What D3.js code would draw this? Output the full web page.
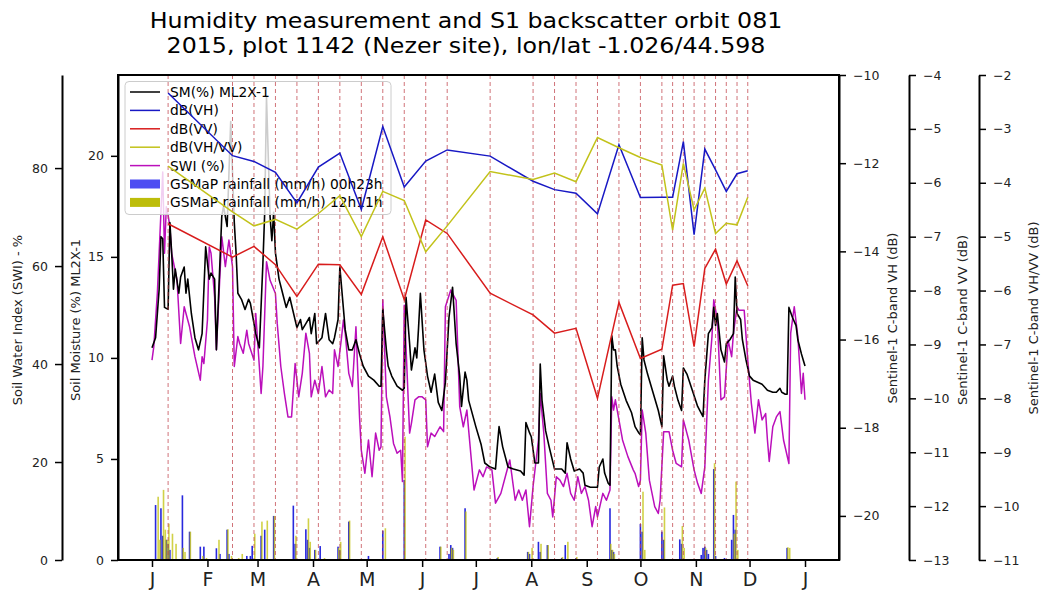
<!DOCTYPE html>
<html><head><meta charset="utf-8">
<script src="https://cdn.jsdelivr.net/npm/d3@7"></script>
<style>
body{margin:0;background:#fff;}
svg{display:block;font-family:"DejaVu Sans",sans-serif;}
</style></head><body>
<svg id="chart" width="1042" height="592"></svg>
<script>
// ---- data -------------------------------------------------------------
const titleLines = ["Humidity measurement and S1 backscatter orbit 081",
                    "2015, plot 1142 (Nezer site), lon/lat -1.026/44.598"];
const monthLabels = ["J","F","M","A","M","J","J","A","S","O","N","D","J"];

// Sentinel-1 acquisition dates and backscatter (dB)
const s1Dates = ["2015-01-10","2015-02-15","2015-02-27","2015-03-11","2015-03-23","2015-04-04",
  "2015-04-16","2015-04-28","2015-05-10","2015-05-22","2015-06-03","2015-06-15","2015-07-09",
  "2015-08-02","2015-08-14","2015-08-26","2015-09-07","2015-09-19","2015-10-01","2015-10-13",
  "2015-10-19","2015-10-25","2015-10-31","2015-11-06","2015-11-12","2015-11-18","2015-11-24","2015-11-30"];
const vhValues = [-10.41,-11.83,-11.96,-12.21,-12.90,-12.09,-11.77,-13.05,-11.17,-12.54,-11.95,-11.70,-11.84,
  -12.41,-12.60,-12.68,-13.15,-11.58,-12.78,-12.77,-12.77,-11.51,-13.62,-11.68,-12.15,-12.64,-12.24,-12.17];
const vvValues = [-6.76,-7.38,-7.18,-7.52,-8.11,-7.51,-7.52,-8.07,-7.00,-8.17,-6.69,-6.94,-8.05,
  -8.45,-8.79,-8.70,-10.00,-8.22,-9.26,-9.09,-7.90,-7.87,-9.04,-7.59,-7.23,-7.88,-7.45,-7.91];
const ratioValues = [-3.69,-4.54,-4.80,-4.68,-4.86,-4.57,-4.24,-5.00,-4.16,-4.33,-5.28,-4.80,-3.79,
  -3.94,-3.82,-3.98,-3.16,-3.35,-3.53,-3.67,-4.88,-3.64,-4.50,-4.10,-4.94,-4.75,-4.78,-4.27];

// Soil moisture ML2X-1 (%), [day of year (0 = 1 Jan), value]
const smPoints = [[0,10.5],[2,11.0],[4,13.4],[5,16.0],[6,15.9],[7,12.5],[9,12.4],[10,16.7],[11,15.2],[12,13.4],
  [13,14.4],[15,13.2],[16,14.0],[18,14.5],[19,13.2],[20,13.9],[22,12.2],[24,11.0],[26,10.4],[28,11.2],[30,15.5],
  [32,13.9],[33,14.2],[35,13.9],[36,10.4],[39,17.0],[40,17.5],[42,16.5],[44,21.7],[46,16.7],[47,15.2],[48,13.2],
  [50,12.9],[52,12.4],[54,12.9],[55,12.7],[56,12.2],[58,11.2],[60,10.5],[62,14.7],[63,17.2],[64,22.9],[66,17.0],
  [67,15.8],[68,17.2],[69,15.2],[71,13.9],[73,13.2],[75,12.5],[77,13.0],[81,11.5],[83,11.9],[84,11.4],[86,11.7],
  [88,12.0],[89,11.2],[91,12.2],[92,10.7],[95,11.0],[97,12.2],[99,10.9],[101,10.7],[102,11.0],[104,11.9],[105,14.5],
  [108,11.4],[110,10.4],[112,10.4],[114,10.9],[116,10.2],[118,9.6],[121,9.1],[124,8.9],[127,8.6],[128,8.6],[129,12.4],
  [131,10.4],[132,9.6],[134,9.1],[137,8.6],[140,8.4],[141,8.5],[142,13.0],[144,10.7],[145,9.4],[147,10.5],[148,10.0],
  [149,11.5],[150,13.2],[152,10.4],[154,9.1],[156,8.3],[158,9.2],[160,7.8],[162,7.4],[164,8.8],[166,12.0],[168,13.5],
  [170,10.7],[172,9.1],[173,7.6],[175,9.3],[176,8.9],[177,7.9],[181,6.6],[184,5.7],[186,4.8],[189,4.6],[192,4.5],
  [193,5.6],[194,6.6],[196,5.6],[199,4.6],[202,4.5],[206,4.4],[208,4.2],[209,6.8],[211,6.3],[212,6.1],[214,4.8],
  [216,4.8],[217,9.7],[218,7.9],[220,6.4],[222,5.6],[225,4.5],[227,4.5],[229,4.5],[231,4.3],[232,5.8],[234,5.0],
  [236,4.4],[239,4.5],[241,4.3],[242,3.7],[245,3.6],[249,3.6],[250,4.6],[252,5.0],[253,4.3],[255,3.8],[256,3.7],
  [257,11.1],[258,10.4],[259,10.4],[260,9.6],[262,8.7],[265,7.9],[268,7.3],[270,6.6],[272,6.3],[273,6.2],[274,11.0],
  [275,9.9],[277,9.2],[280,8.3],[283,7.4],[285,6.6],[286,10.1],[288,8.9],[289,8.6],[291,9.1],[292,8.6],[294,7.9],
  [296,7.4],[297,9.5],[299,9.2],[302,8.4],[305,7.6],[308,7.1],[309,8.9],[311,11.2],[313,11.5],[314,12.5],[315,11.6],
  [316,12.2],[318,10.4],[320,9.8],[321,10.7],[323,10.9],[325,11.2],[326,14.0],[327,12.2],[329,11.9],[330,10.9],
  [332,9.9],[334,9.1],[336,8.9],[341,8.7],[344,8.4],[347,8.3],[349,8.3],[351,8.5],[352,8.3],[354,8.2],[355,8.2],
  [356,12.5],[358,12.0],[360,11.6],[361,10.9],[363,10.2],[364,9.9],[365,9.6]];

// Soil Water Index (%), [day of year, value]
const swiPoints = [[0,40.8],[1,43.5],[3,54.5],[6,79.2],[7,62.6],[8,72.1],[9,70.4],[10,68.0],[11,62.6],[14,57.1],
  [16,44.2],[18,51.7],[21,47.6],[24,41.5],[27,36.7],[28,41.5],[29,40.1],[31,49.0],[32,63.9],[33,62.6],[35,53.7],
  [36,42.9],[39,66.0],[41,59.9],[43,65.3],[45,59.9],[46,39.5],[48,45.6],[49,44.2],[51,42.2],[53,46.9],[54,44.2],
  [57,40.8],[58,50.3],[60,39.5],[61,34.0],[62,39.5],[64,60.9],[66,57.1],[69,54.4],[70,48.3],[72,39.5],[74,34.0],
  [76,29.2],[78,29.2],[80,40.1],[82,33.3],[84,38.1],[86,46.3],[88,42.2],[89,33.3],[91,36.7],[93,34.0],[95,39.5],
  [97,33.3],[99,34.7],[101,34.0],[102,42.9],[104,39.5],[106,45.6],[107,49.0],[108,46.3],[110,38.1],[112,35.4],
  [114,47.6],[116,29.2],[117,22.4],[119,17.7],[121,24.5],[123,17.0],[125,25.9],[127,22.4],[128,23.1],[129,53.1],
  [131,33.3],[133,29.2],[135,23.8],[137,21.8],[139,22.4],[140,16.0],[141,52.0],[144,25.9],[145,27.9],[147,32.7],
  [149,33.3],[151,33.3],[153,32.7],[154,23.1],[156,25.9],[158,25.2],[161,27.2],[163,26.2],[164,51.7],[167,55.1],
  [170,53.0],[172,31.3],[174,27.2],[176,30.6],[180,14.3],[183,18.4],[185,17.0],[187,19.0],[190,18.4],[192,11.6],
  [195,13.6],[198,17.7],[200,20.4],[201,17.7],[203,12.2],[205,14.3],[207,12.2],[209,14.3],[211,6.8],[213,15.0],
  [216,24.5],[217,34.0],[219,25.9],[221,13.6],[223,12.2],[224,8.8],[226,17.0],[228,16.3],[230,15.0],[232,17.7],
  [234,13.6],[236,12.2],[238,17.0],[240,13.6],[242,15.0],[244,12.2],[246,6.8],[248,10.9],[249,8.8],[252,13.6],
  [254,12.2],[256,14.3],[257,33.3],[258,30.6],[259,32.7],[261,28.6],[263,24.5],[266,21.1],[269,18.4],[270,17.7],
  [272,15.0],[273,16.3],[274,30.6],[276,25.9],[278,16.3],[281,10.9],[283,9.5],[284,12.2],[286,26.2],[289,26.2],
  [291,22.4],[293,19.7],[296,19.0],[297,28.6],[300,24.5],[303,18.4],[305,15.6],[307,13.6],[309,19.0],[311,36.7],
  [313,45.6],[314,53.1],[316,49.0],[318,32.7],[320,33.3],[322,44.9],[324,41.5],[325,46.3],[327,51.7],[328,51.0],
  [331,51.0],[333,40.8],[335,32.0],[337,25.9],[339,32.7],[341,28.6],[343,29.9],[344,24.5],[345,20.1],[347,27.2],
  [349,29.2],[351,30.3],[353,24.5],[356,19.7],[357,46.3],[359,51.7],[361,45.6],[363,34.0],[364,38.1],[365,32.7]];

// GSMaP rainfall (mm/h), [day of year, value]
const rain00h23h = [[2,2.72],[5,2.56],[6,1.2],[8,1.0],[9,0.8],[10,0.5],[17,3.2],[21,1.4],[27,0.66],[29,0.66],
  [36,0.58],[38,0.3],[42,1.5],[43,0.3],[53,0.2],[55,0.2],[56,0.7],[61,1.2],[63,1.5],[68,2.18],[79,2.69],[80,0.8],
  [86,1.52],[87,1.0],[88,0.6],[91,0.5],[94,0.69],[104,0.66],[105,0.5],[110,1.9],[121,0.2],[129,1.45],[141,3.96],
  [161,0.66],[166,0.3],[167,0.74],[168,0.6],[175,2.56],[193,0.1],[210,0.4],[211,0.3],[216,0.9],[217,0.4],
  [221,0.74],[229,0.1],[231,0.74],[237,0.1],[256,2.56],[257,0.5],[258,0.4],[273,1.78],[274,1.4],[285,1.4],
  [286,1.0],[295,1.02],[296,0.8],[307,0.25],[308,0.6],[309,0.66],[310,0.5],[311,0.3],[314,4.5],[315,0.2],
  [320,0.1],[324,1.0],[325,2.23],[326,1.5],[355,0.6]];
const rain12h11h = [[3,3.13],[4,1.0],[6,3.47],[7,1.5],[8,1.0],[9,1.8],[11,1.3],[13,0.8],[17,0.6],[18,0.4],
  [21,1.4],[28,0.2],[30,0.1],[37,1.0],[42,1.52],[44,0.2],[48,0.1],[50,0.3],[57,1.3],[61,1.9],[64,1.95],[68,2.18],
  [80,1.2],[87,2.06],[88,0.9],[91,0.5],[96,0.1],[104,0.6],[105,0.9],[110,1.95],[130,1.57],[141,6.1],[161,0.66],
  [167,0.6],[168,0.5],[175,2.4],[186,0.05],[193,0.15],[210,0.4],[212,0.6],[217,0.8],[221,0.74],[229,0.15],
  [232,0.9],[237,0.15],[256,0.8],[257,0.5],[258,0.3],[274,3.38],[275,0.5],[286,2.6],[296,1.68],[297,0.6],
  [309,0.6],[314,4.79],[325,1.3],[326,3.88],[327,0.5],[355,0.63],[356,0.6]];

const smTicks = [0,5,10,15,20];
const swiTicks = [0,20,40,60,80];
const vhTicks = [-20,-18,-16,-14,-12,-10];
const vvTicks = [-13,-12,-11,-10,-9,-8,-7,-6,-5,-4];
const ratioTicks = [-11,-10,-9,-8,-7,-6,-5,-4,-3,-2];

// ---- scales -----------------------------------------------------------
const svg = d3.select("#chart");
const box = {left:118, right:839, top:75, bottom:560};
const yearStart = new Date(2015, 0, 1);
const dayDate = d => d3.timeDay.offset(yearStart, d);
const parseDate = d3.timeParse("%Y-%m-%d");
const s1 = s1Dates.map(parseDate);

const x = d3.scaleTime().domain([new Date(2014, 11, 13), new Date(2016, 0, 20)]).range([box.left, box.right]);
const ySM = d3.scaleLinear().domain([0, 24]).range([box.bottom, box.top]);
const ySWI = d3.scaleLinear().domain([0, 99]).range([box.bottom, box.top]);
const yVH = d3.scaleLinear().domain([-21, -10]).range([box.bottom, box.top]);
const yVV = d3.scaleLinear().domain([-13, -4]).range([box.bottom, box.top]);
const yR = d3.scaleLinear().domain([-11, -2]).range([box.bottom, box.top]);

const colors = {sm:"#000000", vh:"#1818c4", vv:"#d81c1c", ratio:"#c2c21a", swi:"#bb0fbb",
                rainA:"#0a0ad8", rainB:"#bfbf00"};

// ---- title (slightly widened glyphs) ----------------------------------
svg.append("g").selectAll("text").data(titleLines).join("text")
  .attr("transform", (d, i) => `translate(466,${28 + i * 25}) scale(1.13,1)`)
  .attr("text-anchor", "middle").attr("font-size", 21).attr("fill", "#000")
  .text(d => d);

const plot = svg.append("g");
plot.append("clipPath").attr("id", "clip").append("rect")
  .attr("x", box.left).attr("y", box.top).attr("width", box.right - box.left).attr("height", box.bottom - box.top);
// layer under the legend
const lower = plot.append("g").attr("clip-path", "url(#clip)");

// SWI
lower.append("path").datum(swiPoints)
  .attr("d", d3.line().x(p => x(dayDate(p[0]))).y(p => ySWI(p[1])))
  .attr("fill", "none").attr("stroke", colors.swi).attr("stroke-width", 1.5).attr("stroke-linejoin", "round");

// rainfall bars
const barW = 1.6;
lower.append("g").selectAll("rect").data(rain00h23h).join("rect")
  .attr("x", p => x(dayDate(p[0])) - barW / 2).attr("width", barW)
  .attr("y", p => ySM(p[1])).attr("height", p => box.bottom - ySM(p[1]))
  .attr("fill", colors.rainA).attr("fill-opacity", 0.88);
lower.append("g").selectAll("rect").data(rain12h11h).join("rect")
  .attr("x", p => x(dayDate(p[0])) - barW / 2 + 0.8).attr("width", barW)
  .attr("y", p => ySM(p[1])).attr("height", p => box.bottom - ySM(p[1]))
  .attr("fill", colors.rainB).attr("fill-opacity", 0.72);

// soil moisture
lower.append("path").datum(smPoints)
  .attr("d", d3.line().x(p => x(dayDate(p[0]))).y(p => ySM(p[1])))
  .attr("fill", "none").attr("stroke", colors.sm).attr("stroke-width", 1.6).attr("stroke-linejoin", "round");

// ---- legend -----------------------------------------------------------
const legendItems = [
  {label:"SM(%) ML2X-1", color:colors.sm, kind:"line"},
  {label:"dB(VH)", color:colors.vh, kind:"line"},
  {label:"dB(VV)", color:colors.vv, kind:"line"},
  {label:"dB(VH/VV)", color:colors.ratio, kind:"line"},
  {label:"SWI (%)", color:colors.swi, kind:"line"},
  {label:"GSMaP rainfall (mm/h) 00h23h", color:"#4d4df2", kind:"patch"},
  {label:"GSMaP rainfall (mm/h) 12h11h", color:"#bdbd0a", kind:"patch"}];
const legend = plot.append("g");
legend.append("rect").attr("x", 125).attr("y", 81.5).attr("width", 266).attr("height", 133).attr("rx", 4)
  .attr("fill", "#fff").attr("fill-opacity", 0.8).attr("stroke", "#cccccc").attr("stroke-width", 1);
const rows = legend.selectAll("g").data(legendItems).join("g")
  .attr("transform", (d, i) => `translate(0,${92 + i * 18.4})`);
rows.filter(d => d.kind === "line").append("line")
  .attr("x1", 130).attr("x2", 160).attr("stroke", d => d.color).attr("stroke-width", 1.5);
rows.filter(d => d.kind === "patch").append("rect")
  .attr("x", 130).attr("y", -4.5).attr("width", 30).attr("height", 9).attr("fill", d => d.color);
rows.append("text").attr("x", 170).attr("dy", "0.36em").attr("font-size", 13.8).text(d => d.label);

// layer above the legend
const upper = plot.append("g").attr("clip-path", "url(#clip)");

// S1 acquisitions
upper.append("g").selectAll("line").data(s1).join("line")
  .attr("x1", d => x(d)).attr("x2", d => x(d)).attr("y1", box.top).attr("y2", box.bottom)
  .attr("stroke", "#c0444c").attr("stroke-opacity", 0.75).attr("stroke-width", 1).attr("stroke-dasharray", "4,3");

// backscatter lines
const s1Line = (vals, y) => d3.line().x((d, i) => x(s1[i])).y(d => y(d))(vals);
upper.append("path").attr("d", s1Line(vhValues, yVH)).attr("fill", "none").attr("stroke", colors.vh).attr("stroke-width", 1.5);
upper.append("path").attr("d", s1Line(vvValues, yVV)).attr("fill", "none").attr("stroke", colors.vv).attr("stroke-width", 1.5);
upper.append("path").attr("d", s1Line(ratioValues, yR)).attr("fill", "none").attr("stroke", colors.ratio).attr("stroke-width", 1.5);

// ---- frame and axes ---------------------------------------------------
plot.append("rect").attr("x", box.left).attr("y", box.top).attr("width", box.right - box.left)
  .attr("height", box.bottom - box.top).attr("fill", "none").attr("stroke", "#000").attr("stroke-width", 2);

function styleAxis(g, fs) {
  g.selectAll(".domain").attr("stroke", "#000").attr("stroke-width", 2);
  g.selectAll(".tick line").attr("stroke", "#000").attr("stroke-width", 1.5);
  g.selectAll(".tick text").attr("fill", "#222").attr("font-size", fs).attr("font-family", "DejaVu Sans");
}
const fmt = d3.format("d");
const axSM = svg.append("g").attr("transform", `translate(${box.left},0)`)
  .call(d3.axisLeft(ySM).tickValues(smTicks).tickFormat(fmt).tickSize(7).tickPadding(7).tickSizeOuter(0));
styleAxis(axSM, 12.5);
const axSWI = svg.append("g").attr("transform", "translate(62,0)")
  .call(d3.axisLeft(ySWI).tickValues(swiTicks).tickFormat(fmt).tickSize(7).tickPadding(7).tickSizeOuter(0));
styleAxis(axSWI, 12.5);
const axVH = svg.append("g").attr("transform", `translate(${box.right},0)`)
  .call(d3.axisRight(yVH).tickValues(vhTicks).tickFormat(fmt).tickSize(7).tickPadding(7).tickSizeOuter(0));
styleAxis(axVH, 12.5);
const axVV = svg.append("g").attr("transform", "translate(909,0)")
  .call(d3.axisRight(yVV).tickValues(vvTicks).tickFormat(fmt).tickSize(7).tickPadding(7).tickSizeOuter(0));
styleAxis(axVV, 12.5);
const axR = svg.append("g").attr("transform", "translate(979,0)")
  .call(d3.axisRight(yR).tickValues(ratioTicks).tickFormat(fmt).tickSize(7).tickPadding(7).tickSizeOuter(0));
styleAxis(axR, 12.5);

const monthTicks = d3.timeMonth.range(new Date(2015, 0, 1), new Date(2016, 0, 2));
const axX = svg.append("g").attr("transform", `translate(0,${box.bottom})`)
  .call(d3.axisBottom(x).tickValues(monthTicks).tickFormat((d, i) => monthLabels[i]).tickSize(7).tickPadding(6).tickSizeOuter(0));
styleAxis(axX, 19);
axX.select(".domain").remove();

// axis titles
const axisTitles = [
  {text:"Soil Water Index (SWI) - %", x:17, y:320},
  {text:"Soil Moisture (%) ML2X-1", x:75, y:320},
  {text:"Sentinel-1 C-band VH (dB)", x:892, y:318},
  {text:"Sentinel-1 C-band VV (dB)", x:962, y:320},
  {text:"Sentinel-1 C-band VH/VV (dB)", x:1033, y:318}];
svg.append("g").selectAll("text").data(axisTitles).join("text")
  .attr("transform", d => `translate(${d.x},${d.y}) rotate(-90)`)
  .attr("text-anchor", "middle").attr("dy", "0.36em").attr("font-size", 13).attr("fill", "#222")
  .text(d => d.text);
</script>
</body></html>
